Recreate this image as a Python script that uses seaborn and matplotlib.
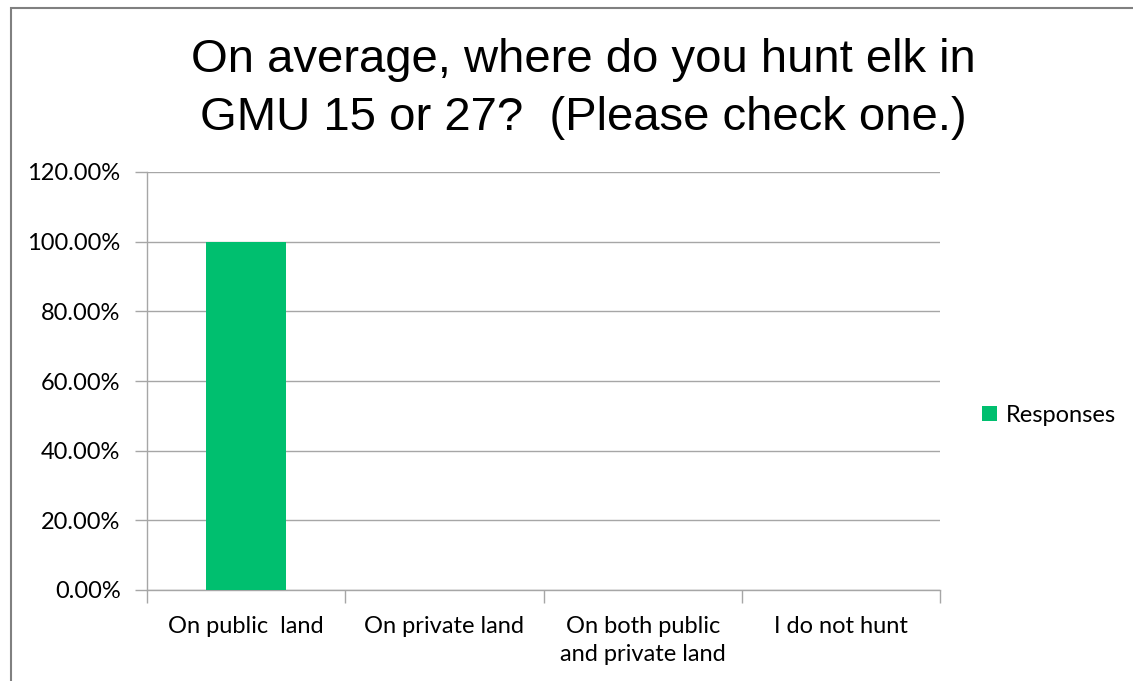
import matplotlib
matplotlib.use('Agg')
from matplotlib import pyplot as plt
from matplotlib.patches import Rectangle, Patch
from matplotlib.ticker import FuncFormatter, FixedLocator
import pandas as pd
import seaborn as sns

# Data
categories = ['On public  land', 'On private land', 'On both public\nand private land', 'I do not hunt']
responses = [100.0, 0.0, 0.0, 0.0]
series_name = 'Responses'
title = 'On average, where do you hunt elk in\nGMU 15 or 27?  (Please check one.)'

df = pd.DataFrame({'Answer': categories, 'Percent': responses})

sns.set_style('white')
plt.rcParams['font.family'] = ['Lato', 'DejaVu Sans']
plt.rcParams['text.color'] = 'black'

green = '#00bf6f'
grey = '#a6a6a6'

fig = plt.figure(figsize=(11.33, 6.81), dpi=100)
ax = fig.add_axes([147 / 1133, 1 - 590 / 681, (940 - 147) / 1133, (590 - 172) / 681])

sns.barplot(data=df, x='Answer', y='Percent', color=green, width=0.4,
            saturation=1, linewidth=0, ax=ax, zorder=3)

ax.set_ylim(0, 120)
ax.set_xlim(-0.5, len(categories) - 0.5)
ax.yaxis.set_major_locator(FixedLocator([0, 20, 40, 60, 80, 100, 120]))
ax.yaxis.set_major_formatter(FuncFormatter(lambda v, p: f'{v:.2f}%'))
ax.grid(axis='y', color=grey, linewidth=1, zorder=0)
ax.set_xlabel('')
ax.set_ylabel('')

for s in ['top', 'right']:
    ax.spines[s].set_visible(False)
for s in ['left', 'bottom']:
    ax.spines[s].set_color(grey)
    ax.spines[s].set_linewidth(1)

ax.tick_params(axis='y', left=True, length=9, width=1, color=grey,
               labelsize=17, labelcolor='black', pad=10)
ax.tick_params(axis='x', bottom=False, labelsize=17, labelcolor='black', pad=15)
ax.set_xticks(range(len(categories)))
ax.set_xticklabels(categories, linespacing=1.45)

# boundary tick marks between categories
ax.set_xticks([i - 0.5 for i in range(len(categories) + 1)], minor=True)
ax.tick_params(axis='x', which='minor', bottom=True, length=9, width=1, color=grey)

fig.text(583 / 1133, 1 - 89 / 681, title, ha='center', va='center', fontsize=34,
         family='Liberation Sans', linespacing=1.42, color='black')

handles = [Patch(facecolor=green, edgecolor='none', label=series_name)]
fig.legend(handles=handles, loc='center left', bbox_to_anchor=(973 / 1133, 1 - 415 / 681),
           frameon=False, fontsize=17, handlelength=0.6, handleheight=0.6,
           handletextpad=0.4, borderaxespad=0)

# chart area border
fig.patches.append(Rectangle((11 / 1133, -0.1), 1.2, 1 - 8 / 681 + 0.1,
                             transform=fig.transFigure, fill=False,
                             edgecolor='#808080', linewidth=1.5))

fig.savefig('out.png', dpi=100)
